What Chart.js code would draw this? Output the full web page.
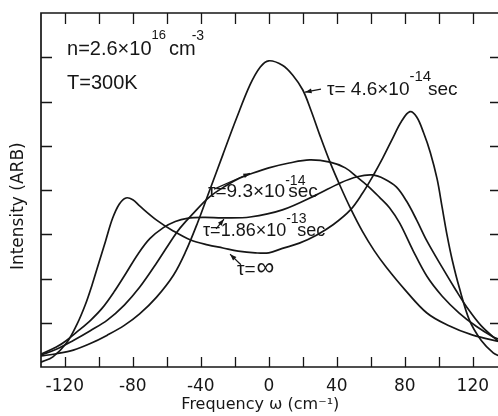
<!DOCTYPE html>
<html>
<head>
<meta charset="utf-8">
<script src="https://cdn.jsdelivr.net/npm/chart.js@4.4.1/dist/chart.umd.min.js"></script>
<style>
  html, body { margin: 0; padding: 0; background: #fff; overflow: hidden; }
  canvas { display: block; }
</style>
</head>
<body>
<canvas id="spectrum" width="500" height="416"></canvas>
<script>
// --- data (frequency in cm^-1, intensity in tick units) ---
const freq46 = [-134, -125, -115, -105, -95, -85, -76, -66, -56, -49, -42, -35, -27, -19, -11, -5, 0, 8, 14, 20, 25, 30, 36, 42, 48, 55, 62, 69, 80, 93, 105, 120, 136];
const int46 = [0.25, 0.3, 0.38, 0.53, 0.72, 0.94, 1.2, 1.58, 2.08, 2.6, 3.25, 3.97, 4.8, 5.62, 6.38, 6.78, 6.92, 6.82, 6.6, 6.26, 5.78, 5.24, 4.63, 4.09, 3.59, 3.07, 2.63, 2.26, 1.75, 1.22, 0.95, 0.72, 0.57];

const freq93 = [-134, -125, -115, -105, -95, -85, -76, -66, -56, -52, -45, -35, -25, -17, -11, 0, 12, 24, 36, 45, 52, 58, 65, 71, 77, 85, 93, 102, 112, 122, 132, 136];
const int93 = [0.27, 0.4, 0.6, 0.82, 1.06, 1.4, 1.8, 2.35, 2.94, 3.15, 3.45, 3.84, 4.1, 4.27, 4.36, 4.5, 4.61, 4.68, 4.63, 4.5, 4.29, 4.1, 3.84, 3.6, 3.25, 2.62, 2.05, 1.6, 1.22, 0.92, 0.68, 0.62];

const freq186 = [-134, -125, -119, -112, -105, -98, -91, -84, -77, -70, -62, -55, -48, -38, -27, -11, 8, 28, 42, 52, 61, 68, 75, 81, 87, 93, 102, 110, 116, 125, 136];
const int186 = [0.29, 0.45, 0.6, 0.82, 1.05, 1.33, 1.7, 2.12, 2.55, 2.9, 3.15, 3.29, 3.36, 3.38, 3.37, 3.39, 3.55, 3.89, 4.16, 4.3, 4.34, 4.25, 4.07, 3.75, 3.32, 2.85, 2.25, 1.74, 1.38, 0.93, 0.55];

const freqInf = [-134, -127, -119, -113, -108, -104, -100, -96, -92, -88, -84, -80, -76, -66, -56, -46, -36, -27, -18, -8, 0, 8, 18, 28, 38, 48, 55, 61, 67, 73, 78, 83, 87, 91, 95, 99, 102, 105, 108, 112, 118, 125, 132, 136];
const intInf = [0.11, 0.23, 0.54, 0.95, 1.4, 1.85, 2.35, 2.85, 3.35, 3.68, 3.82, 3.78, 3.64, 3.32, 3.07, 2.87, 2.76, 2.69, 2.62, 2.58, 2.58, 2.68, 2.8, 2.98, 3.22, 3.55, 3.92, 4.3, 4.72, 5.18, 5.55, 5.77, 5.65, 5.3, 4.85, 4.25, 3.6, 2.95, 2.4, 1.8, 1.06, 0.6, 0.32, 0.24];

const xLabels = [-120, -80, -40, 0, 40, 80, 120];
const xTickMarks = [-120, -100, -80, -60, -40, -20, 0, 20, 40, 60, 80, 100, 120];
const yTickMarks = [1, 2, 3, 4, 5, 6, 7];

const INK = "#161616";
const pts = (xs, ys) => xs.map((x, i) => ({ x: x, y: ys[i] }));

const curve = (label, xs, ys) => ({
  label: label,
  data: pts(xs, ys),
  borderColor: INK,
  borderWidth: 1.7,
  pointRadius: 0,
  fill: false,
  showLine: true,
  tension: 0.35,
});

// text annotations, anchored in data units
const FONT = "'Liberation Sans', sans-serif";
const notes = [
  { x: -118.7, y: 7.05, size: 20, parts: [{ t: "n=2.6×10" }, { t: "16", sup: 13, rise: 16 }, { t: "cm", dx: 3 }, { t: "-3", sup: 14, rise: 15, dx: -4 }] },
  { x: -118.7, y: 6.28, size: 20, parts: [{ t: "T=300K" }] },
  { x: 34.2, y: 6.15, size: 19, parts: [{ t: "τ= 4.6×10" }, { t: "-14", sup: 15, rise: 14, adv: 0.85 }, { t: "sec" }] },
  { x: -35.8, y: 3.84, size: 19, parts: [{ t: "τ=9.3×10" }, { t: "-14", sup: 14, rise: 12, adv: 0.15 }, { t: "sec" }] },
  { x: -38.7, y: 2.96, size: 18, parts: [{ t: "τ=1.86×10" }, { t: "-13", sup: 14, rise: 13, adv: 0.55 }, { t: "sec" }] },
  { x: -18.7, y: 2.08, size: 19, parts: [{ t: "τ=" }, { t: "∞", size: 25, dx: 1 }] },
];
const arrows = [
  { x0: 30.7, y0: 6.28, x1: 21.3, y1: 6.21 },
  { x0: -32.2, y0: 4.02, x1: -11.1, y1: 4.38 },
  { x0: -31, y0: 3.12, x1: -26.4, y1: 3.34 },
  { x0: -16.4, y0: 2.31, x1: -22.8, y1: 2.55 },
];

const framePlugin = {
  id: "frame",
  afterDatasetsDraw(chart) {
    const { ctx, chartArea: a, scales } = chart;
    const xs = scales.x, ys = scales.y;
    ctx.save();
    ctx.strokeStyle = INK;
    ctx.lineWidth = 1.7;
    ctx.beginPath();
    ctx.moveTo(a.right, a.top);
    ctx.lineTo(a.left, a.top);
    ctx.lineTo(a.left, a.bottom);
    ctx.lineTo(a.right, a.bottom);
    ctx.stroke();

    ctx.lineWidth = 1.3;
    ctx.beginPath();
    xTickMarks.forEach((v) => {
      const px = Math.round(xs.getPixelForValue(v)) + 0.5;
      ctx.moveTo(px, a.bottom);
      ctx.lineTo(px, a.bottom - 10);
      ctx.moveTo(px, a.top);
      ctx.lineTo(px, a.top + 11);
    });
    yTickMarks.forEach((v) => {
      const py = Math.round(ys.getPixelForValue(v)) + 0.5;
      ctx.moveTo(a.left, py);
      ctx.lineTo(a.left + 11, py);
      ctx.moveTo(a.right, py);
      ctx.lineTo(a.right - 10, py);
    });
    ctx.stroke();

    ctx.fillStyle = INK;
    ctx.textBaseline = "alphabetic";
    notes.forEach((n) => {
      let px = xs.getPixelForValue(n.x);
      const py = ys.getPixelForValue(n.y);
      n.parts.forEach((p) => {
        ctx.font = (p.sup || p.size || n.size) + "px " + FONT;
        px += p.dx || 0;
        ctx.fillText(p.t, px, py - (p.rise || 0));
        px += ctx.measureText(p.t).width * (p.adv === undefined ? 1 : p.adv);
      });
    });

    ctx.lineWidth = 1.2;
    arrows.forEach((ar) => {
      const x0 = xs.getPixelForValue(ar.x0), y0 = ys.getPixelForValue(ar.y0);
      const x1 = xs.getPixelForValue(ar.x1), y1 = ys.getPixelForValue(ar.y1);
      const ang = Math.atan2(y1 - y0, x1 - x0);
      ctx.beginPath();
      ctx.moveTo(x0, y0);
      ctx.lineTo(x1, y1);
      ctx.stroke();
      ctx.beginPath();
      ctx.moveTo(x1, y1);
      ctx.lineTo(x1 - 7 * Math.cos(ang - 0.35), y1 - 7 * Math.sin(ang - 0.35));
      ctx.lineTo(x1 - 7 * Math.cos(ang + 0.35), y1 - 7 * Math.sin(ang + 0.35));
      ctx.closePath();
      ctx.fill();
    });
    ctx.restore();
  },
};

new Chart(document.getElementById("spectrum").getContext("2d"), {
  type: "scatter",
  data: {
    datasets: [
      curve("τ = 4.6×10⁻¹⁴ sec", freq46, int46),
      curve("τ = 9.3×10⁻¹⁴ sec", freq93, int93),
      curve("τ = 1.86×10⁻¹³ sec", freq186, int186),
      curve("τ = ∞", freqInf, intInf),
    ],
  },
  options: {
    responsive: false,
    animation: false,
    devicePixelRatio: 1,
    layout: { padding: { top: 13, right: 0, left: 0, bottom: 0 } },
    plugins: { legend: { display: false }, tooltip: { enabled: false } },
    scales: {
      x: {
        type: "linear",
        min: -134,
        max: 136,
        afterBuildTicks: (s) => {
          s.ticks = xLabels.map((v) => ({ value: v }));
        },
        afterFit: (s) => {
          s.height = 49;
        },
        grid: { display: false, drawTicks: false },
        border: { display: false },
        ticks: {
          color: INK,
          autoSkip: false,
          maxRotation: 0,
          padding: 9,
          font: { family: "'DejaVu Sans', sans-serif", size: 17 },
        },
        title: {
          display: true,
          text: "Frequency ω (cm⁻¹)    ",
          color: INK,
          padding: { top: 0, bottom: 2 },
          font: { family: "'DejaVu Sans', sans-serif", size: 16 },
        },
      },
      y: {
        min: 0,
        max: 8,
        afterFit: (s) => {
          s.width = 41;
        },
        grid: { display: false, drawTicks: false },
        border: { display: false },
        ticks: { display: false },
        title: {
          display: true,
          text: "Intensity (ARB)      ",
          color: INK,
          padding: { top: 8, bottom: 0 },
          font: { family: "'DejaVu Sans', sans-serif", size: 17 },
        },
      },
    },
  },
  plugins: [framePlugin],
});
</script>
</body>
</html>
